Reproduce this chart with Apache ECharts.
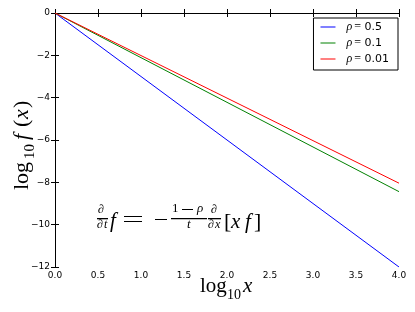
<!DOCTYPE html>
<html><head><meta charset="utf-8">
<script src="https://cdn.jsdelivr.net/npm/echarts@6/dist/echarts.min.js"></script>
<style>html,body{margin:0;padding:0;background:#fff}#c{width:415px;height:312px}</style>
</head><body><div id="c"></div>
<script>
const xTicks = [0, 0.5, 1.0, 1.5, 2.0, 2.5, 3.0, 3.5, 4.0];
const yTicks = [-12, -10, -8, -6, -4, -2, 0];
const seriesNames = ['ρ= 0.5', 'ρ= 0.1', 'ρ= 0.01'];
const rhoLabels = ['0.5', '0.1', '0.01'];
const xValues = [0, 4];
const rho05 = [0, -12];
const rho01 = [0, -8.44];
const rho001 = [0, -8.04];
const colors = ['#0000ff', '#008000', '#ff0000'];

const chart = echarts.init(document.getElementById('c'));
const mk = (arr) => xValues.map((x, i) => [x, arr[i]]);
const fmtMinus = v => (v < 0 ? '\u2212' + Math.abs(v) : String(v));
const tickStyle = { inside: true, length: 4, lineStyle: { color: '#000', width: 1 } };
const serif = 'Liberation Serif, DejaVu Serif, serif';

let gid = 0;
function t(x, y, s, size, italic) {
  return { type: 'text', id: 'g' + (gid++), x: x, y: y, silent: true, z: 100,
    style: { text: s, font: (italic ? 'italic ' : '') + size + 'px ' + serif, fill: '#000', align: 'left', verticalAlign: 'middle' } };
}
function bar(x1, x2, y, h) {
  return { type: 'rect', id: 'g' + (gid++), silent: true, z: 101, shape: { x: x1, y: y, width: x2 - x1, height: h || 1 }, style: { fill: '#000', stroke: null } };
}

// equation (annotation text)
const eq = [
  t(98, 210, '∂', 12, false),
  t(97, 225, '∂', 12, false), t(104, 225, 't', 12, true),
  t(110, 221, 'f', 21, true),
  t(172, 209, '1', 13, false), t(197, 209, 'ρ', 13, true),
  t(187, 225, 't', 13, true),
  t(211, 210, '∂', 12, false),
  t(208, 225, '∂', 12, false), t(215, 225, 'x', 12, true),
  t(224, 222, '[', 22, false),
  t(231, 222, 'x', 21, true),
  t(245, 222, 'f', 21, true),
  t(254, 222, ']', 22, false),
  bar(97, 108, 218, 1.3),
  bar(124, 142, 216), bar(124, 142, 221),
  bar(155, 167, 219),
  bar(182, 193, 209),
  bar(171, 207, 218, 1.3),
  bar(208, 221, 218, 1.3)
];

// x axis title: log10 x
const xLabel = [
  t(200, 286, 'log', 21, false),
  t(227, 295, '10', 14, false),
  t(243, 286, 'x', 21, true)
];

// y axis title: log10 f(x), rotated
const yLabel = {
  type: 'group', id: 'ylab', x: 22, y: 190, rotation: Math.PI / 2, silent: true,
  children: [
    t(0, 0, 'log', 22, false),
    t(31, 8, '10', 15, false),
    t(50, 0, 'f', 22, true),
    t(63, 0, '(', 22, false),
    t(71, 0, 'x', 22, true),
    t(82, 0, ')', 22, false)
  ]
};

chart.setOption({
  animation: false,
  grid: { left: 55, right: 16, top: 13, bottom: 45 },
  xAxis: [
    { type: 'value', min: 0, max: 4, interval: 0.5, position: 'bottom',
      axisLine: { lineStyle: { color: '#000', width: 1 } }, axisTick: tickStyle,
      splitLine: { show: false },
      axisLabel: { formatter: v => v.toFixed(1), color: '#000', fontSize: 9, fontFamily: 'DejaVu Sans', margin: 4 } },
    { type: 'value', min: 0, max: 4, interval: 0.5, position: 'top',
      axisLine: { lineStyle: { color: '#000', width: 1 } }, axisTick: tickStyle,
      axisLabel: { show: false }, splitLine: { show: false } }
  ],
  yAxis: [
    { type: 'value', min: -12, max: 0, interval: 2, position: 'left',
      axisLine: { show: true, lineStyle: { color: '#000', width: 1 } }, axisTick: tickStyle,
      splitLine: { show: false },
      axisLabel: { formatter: fmtMinus, color: '#000', fontSize: 9, fontFamily: 'DejaVu Sans', margin: 5 } },
    { type: 'value', min: -12, max: 0, interval: 2, position: 'right',
      axisLine: { show: true, lineStyle: { color: '#000', width: 1 } }, axisTick: tickStyle,
      axisLabel: { show: false }, splitLine: { show: false } }
  ],
  legend: {
    right: 17, top: 18, orient: 'vertical', itemGap: 4,
    backgroundColor: '#fff', borderColor: '#000', borderWidth: 1, borderRadius: 0,
    padding: [3, 9, 5, 7], itemWidth: 15, itemHeight: 1, icon: 'rect',
    data: seriesNames,
    formatter: name => '{r|ρ}{e|=}{n| ' + rhoLabels[seriesNames.indexOf(name)] + '}',
    textStyle: { lineHeight: 12, rich: {
      r: { fontFamily: serif, fontStyle: 'italic', fontSize: 12, color: '#000', padding: [0, 2, 0, 6], lineHeight: 12 },
      e: { fontFamily: serif, fontSize: 12, color: '#000', lineHeight: 12 },
      n: { fontFamily: 'DejaVu Sans', fontSize: 11, color: '#000', lineHeight: 12 }
    } }
  },
  series: [rho05, rho01, rho001].map((arr, i) => ({
    name: seriesNames[i], type: 'line', data: mk(arr), showSymbol: false,
    lineStyle: { color: colors[i], width: 1 }, itemStyle: { color: colors[i] }
  })),
  graphic: eq.concat(xLabel, [yLabel])
});
</script></body></html>
